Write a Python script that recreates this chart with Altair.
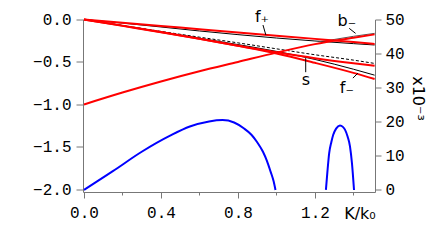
import altair as alt
import pandas as pd

# ---- data ----
K = [0.0, 0.2, 0.4, 0.6, 0.8, 1.0, 1.2, 1.4, 1.51]
red_f_plus = [0.0, -0.038, -0.076, -0.114, -0.152, -0.19, -0.228, -0.266, -0.287]
red_rising = [-1.0, -0.86, -0.73, -0.61, -0.50, -0.39, -0.29, -0.215, -0.175]
red_upper_pair = [0.0, -0.075, -0.15, -0.228, -0.31, -0.385, -0.455, -0.515, -0.545]
red_f_minus = [0.0, -0.072, -0.148, -0.226, -0.31, -0.40, -0.51, -0.628, -0.70]

black_near_fplus = [0.0, -0.042, -0.088, -0.135, -0.178, -0.218, -0.253, -0.284, -0.30]
black_s = [0.0, -0.072, -0.145, -0.22, -0.295, -0.375, -0.47, -0.585, -0.655]
black_dashed = [0.0, -0.07, -0.14, -0.208, -0.275, -0.345, -0.415, -0.478, -0.517]

K_bminus = [1.22, 1.3, 1.4, 1.51]
gray_bminus = [-0.262, -0.235, -0.198, -0.163]

K_blue1 = [0.0, 0.15, 0.3, 0.45, 0.55, 0.65, 0.72, 0.78, 0.83, 0.87, 0.9, 0.93, 0.95, 0.97, 0.985, 0.995]
blue1 = [0.0, 5.5, 11.2, 16.0, 18.6, 20.1, 20.5, 19.8, 18.1, 16.2, 14.0, 11.2, 8.6, 5.3, 2.6, 0.0]
K_blue2 = [1.257, 1.265, 1.274, 1.285, 1.295, 1.31, 1.33, 1.345, 1.356, 1.37, 1.382, 1.392, 1.403]
blue2 = [0.0, 5.5, 10.8, 14.0, 16.2, 18.0, 18.9, 18.5, 17.7, 15.6, 12.8, 8.0, 0.0]

label_text = ["f\u208a", "b\u208b", "s", "f\u208b"]
label_K = [0.925, 1.366, 1.153, 1.366]
label_v = [0.028, -0.018, -0.714, -0.808]

leader_K = [0.930, 1.378, 1.152, 1.397]
leader_v = [-0.065, -0.104, -0.454, -0.69]
leader_K2 = [0.945, 1.411, 1.152, 1.423]
leader_v2 = [-0.183, -0.163, -0.62, -0.631]

x_ticks = [0.0, 0.2, 0.4, 0.6, 0.8, 1.0, 1.2, 1.4]
y_left_ticks = [-2.0, -1.5, -1.0, -0.5, 0.0]
y_right_ticks = [0, 10, 20, 30, 40, 50]

# ---- tables ----
def long(name, ks, vs):
    return pd.DataFrame({"series": name, "K": ks, "v": vs})

red_df = pd.concat([long("fp", K, red_f_plus), long("rise", K, red_rising),
                    long("pair", K, red_upper_pair), long("fm", K, red_f_minus)])
black_df = pd.concat([long("bfp", K, black_near_fplus), long("s", K, black_s)])
dash_df = long("dash", K, black_dashed)
bm_df = long("bm", K_bminus, gray_bminus)
blue_df = pd.concat([pd.DataFrame({"series": "b1", "K": K_blue1, "w": blue1}),
                     pd.DataFrame({"series": "b2", "K": K_blue2, "w": blue2})])
lab_df = pd.DataFrame({"t": label_text, "K": label_K, "v": label_v})
lead_df = pd.DataFrame({"K": leader_K, "v": leader_v, "K2": leader_K2, "v2": leader_v2})

AX = "#777777"
MONO = "Liberation Mono"

xscale = alt.Scale(domain=[-0.005, 1.512], nice=False, zero=False)
yscale = alt.Scale(domain=[-2.03, 0.0], nice=False, zero=False)
wscale = alt.Scale(domain=[-0.6, 50], nice=False, zero=False)

xaxis = alt.Axis(values=x_ticks, title=None, grid=False,
                 labelExpr="round(datum.value*10) % 4 == 0 ? format(datum.value, '.1f') : ''",
                 tickSize={"condition": {"test": "round(datum.value*10) % 4 == 0", "value": 6}, "value": 3},
                 labelPadding=6, labelFont=MONO, labelFontSize=16, labelColor="#000",
                 domainColor=AX, tickColor=AX, labelFlush=False)
yaxis = alt.Axis(values=y_left_ticks, format=".1f", title=None, grid=False, tickSize=7,
                 labelPadding=5, labelFont=MONO, labelFontSize=16, labelColor="#000",
                 domainColor=AX, tickColor=AX)
waxis = alt.Axis(values=y_right_ticks, orient="right", title=None, grid=False, tickSize=6,
                 labelPadding=4, labelFont=MONO, labelFontSize=16, labelColor="#000",
                 domainColor=AX, tickColor=AX)

X = alt.X("K:Q", scale=xscale, axis=xaxis)
Y = alt.Y("v:Q", scale=yscale, axis=yaxis)

black = alt.Chart(black_df).mark_line(color="#000", strokeWidth=1, interpolate="monotone").encode(
    x=X, y=Y, detail="series:N")
bm = alt.Chart(bm_df).mark_line(color="#555", strokeWidth=1, interpolate="monotone").encode(
    x=X, y=Y)
dash = alt.Chart(dash_df).mark_line(color="#000", strokeWidth=1, strokeDash=[3, 2],
                                    interpolate="monotone").encode(x=X, y=Y)
red = alt.Chart(red_df).mark_line(color="#ff0000", strokeWidth=2, interpolate="monotone").encode(
    x=X, y=Y, detail="series:N")
labels = alt.Chart(lab_df).mark_text(font="DejaVu Sans", fontSize=16, color="#000",
                                     baseline="middle", align="center").encode(
    x=X, y=Y, text="t:N")
leaders = alt.Chart(lead_df).mark_rule(color="#000", strokeWidth=1).encode(
    x=X, y=Y, x2="K2:Q", y2="v2:Q")
klabel = alt.Chart(pd.DataFrame({"t": ["K/k\u2080"], "K": [1.434], "v": [-2.285]})).mark_text(
    font="DejaVu Sans", fontSize=16, color="#000", baseline="middle", align="center").encode(
    x=X, y=Y, text="t:N")
scale_lbl = alt.Chart(pd.DataFrame({"t": ["x10\u207b\u00b3"]})).mark_text(
    font="DejaVu Sans", fontSize=16, color="#000", angle=90, baseline="middle", align="center").encode(
    x=alt.value(335), y=alt.value(79), text="t:N")

left = alt.layer(black, bm, dash, red, leaders, labels, klabel, scale_lbl)

blue = alt.Chart(blue_df).mark_line(color="#0000ff", strokeWidth=2, interpolate="monotone").encode(
    x=X, y=alt.Y("w:Q", scale=wscale, axis=waxis), detail="series:N")

chart = alt.layer(left, blue).resolve_scale(y="independent").properties(
    width=292, height=172.5,
    autosize=alt.AutoSizeParams(type="none"),
    padding={"left": 75, "top": 11.5, "right": 53, "bottom": 40},
    background="white",
).configure_view(stroke=None)

chart.save("out.html", embed_options={"renderer": "svg", "actions": False})
